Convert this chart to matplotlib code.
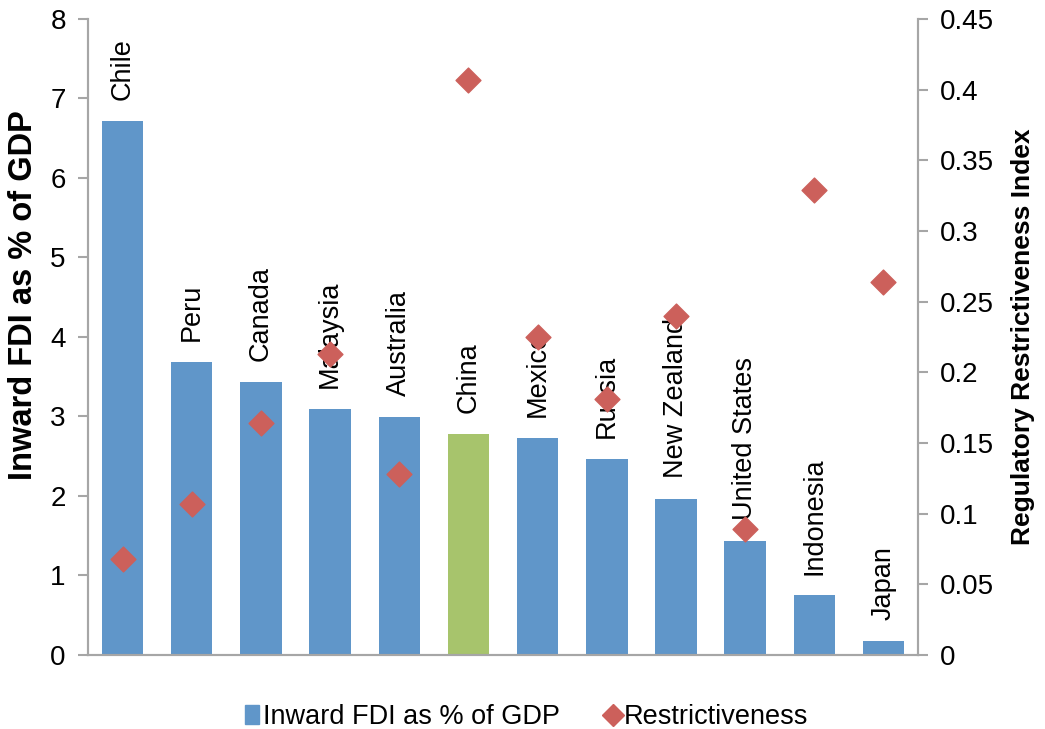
import matplotlib.pyplot as plt
from matplotlib.lines import Line2D
from matplotlib.patches import Patch

plt.rcParams['font.family'] = ['Liberation Sans', 'DejaVu Sans']

countries = ["Chile", "Peru", "Canada", "Malaysia", "Australia", "China", "Mexico",
             "Russia", "New Zealand", "United States", "Indonesia", "Japan"]
fdi = [6.72, 3.69, 3.43, 3.10, 2.99, 2.78, 2.73, 2.47, 1.96, 1.44, 0.75, 0.18]
restrict = [0.068, 0.107, 0.164, 0.213, 0.128, 0.407, 0.225, 0.181, 0.240, 0.089, 0.329, 0.264]

blue = "#6096C9"
green = "#A7C46C"
red = "#CC605B"
gray = "#A6A6A6"

fig = plt.figure(figsize=(10.45, 7.29), dpi=100)
ax = fig.add_axes([0.0842, 0.1015, 0.7943, 0.8725])
x = list(range(len(countries)))
colors = [green if c == "China" else blue for c in countries]
ax.bar(x, fdi, width=0.6, color=colors, zorder=2)
ax.set_xlim(-0.5, 11.5)
ax.set_ylim(0, 8)
ax.set_yticks(range(0, 9))
ax.set_xticks([])
ax.set_ylabel("Inward FDI as % of GDP", fontsize=23.5, fontweight="bold")
ax.yaxis.set_label_coords(-0.059, 0.566)

for i, (c, v) in enumerate(zip(countries, fdi)):
    ax.annotate(c, (i, v), xytext=(0, 15), textcoords="offset points",
                rotation=90, ha="center", va="bottom", fontsize=19.5, zorder=5)

ax2 = ax.twinx()
ax2.scatter(x, restrict, marker="D", s=160, color=red, zorder=4)
ax2.set_ylim(0, 0.45)
ax2.set_yticks([0, 0.05, 0.1, 0.15, 0.2, 0.25, 0.3, 0.35, 0.4, 0.45])
ax2.set_yticklabels(["0", "0.05", "0.1", "0.15", "0.2", "0.25", "0.3", "0.35", "0.4", "0.45"])
ax2.set_ylabel("Regulatory Restrictiveness Index", fontsize=19, fontweight="bold", labelpad=12)

for a in (ax, ax2):
    a.spines["top"].set_visible(False)
    for s in ("left", "right", "bottom"):
        a.spines[s].set_color(gray)
        a.spines[s].set_linewidth(1.5)
    a.tick_params(axis="y", length=7, width=1.5, color=gray, labelsize=20, pad=9)

handles = [Patch(color=blue, label="Inward FDI as % of GDP"),
           Line2D([], [], marker="D", color=red, linestyle="none", markersize=11,
                  label="Restrictiveness")]
fig.legend(handles=handles, loc="center", bbox_to_anchor=(0.504, 0.016), ncol=2,
           frameon=False, fontsize=19.5, handlelength=0.5, handletextpad=0.15,
           columnspacing=1.7)

fig.savefig("out.png", dpi=100)
